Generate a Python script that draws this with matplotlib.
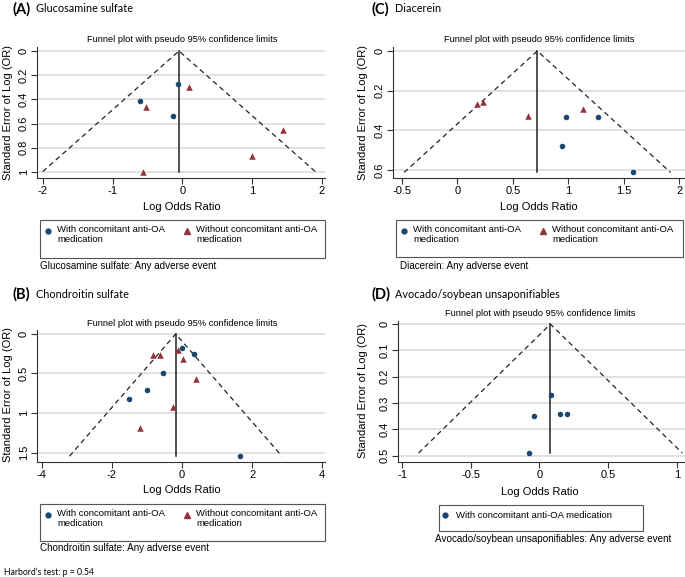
import matplotlib
matplotlib.use('Agg')
import matplotlib.pyplot as plt
import matplotlib.patches as patches
import numpy as np

plt.rcParams['font.family'] = ['Liberation Sans', 'DejaVu Sans']

W, H = 685, 577
BLUE = '#1a476f'
RED = '#90353b'

# (A) Glucosamine sulfate
a_with_x = [-0.61, -0.07, -0.14]
a_with_se = [0.41, 0.27, 0.535]
a_without_x = [0.09, -0.53, 1.44, 1.00, -0.56]
a_without_se = [0.295, 0.465, 0.655, 0.865, 0.997]
a_pooled = -0.05

# (B) Chondroitin sulfate
b_with_x = [0.01, 0.35, -0.55, -1.00, -1.50, 1.64]
b_with_se = [0.174, 0.258, 0.50, 0.71, 0.82, 1.547]
b_without_x = [-0.84, -0.63, -0.11, 0.04, 0.39, -0.25, -1.19]
b_without_se = [0.27, 0.27, 0.20, 0.314, 0.576, 0.93, 1.186]
b_pooled = -0.18

# (C) Diacerein
c_with_x = [0.98, 1.27, 0.94, 1.58]
c_with_se = [0.333, 0.333, 0.481, 0.612]
c_without_x = [0.18, 0.23, 0.64, 1.13]
c_without_se = [0.267, 0.257, 0.326, 0.292]
c_pooled = 0.72

# (D) Avocado/soybean unsaponifiables
d_with_x = [0.086, -0.04, 0.147, 0.203, -0.076]
d_with_se = [0.269, 0.35, 0.34, 0.34, 0.49]
d_pooled = 0.08

TICK_FS = 8
TITLE_FS = 6.7
LAB_FS = 8
LEG_FS = 6.8
CAP_FS = 7.1

fig = plt.figure(figsize=(W / 100, H / 100), dpi=100)


def rect(left, top, right, bottom):
    return [left / W, 1 - bottom / H, (right - left) / W, (bottom - top) / H]


def fx(px):
    return px / W


def fy(py):
    return 1 - py / H


def funnel(box, xlim, ylim, xticks, yticks, ytlabels, pooled, with_x, with_se,
           without_x=None, without_se=None):
    ax = fig.add_axes(rect(*box))
    se_max = max(with_se + (without_se or []))
    # pseudo 95% confidence limits
    ax.plot([pooled - 1.96 * se_max, pooled, pooled + 1.96 * se_max],
            [se_max, 0, se_max], color='#222222', lw=0.9, ls=(0, (4, 3)), zorder=2)
    ax.plot([pooled, pooled], [0, se_max], color='#222222', lw=1.1, zorder=2)
    ax.scatter(with_x, with_se, s=16, marker='o', color=BLUE, zorder=3, linewidths=0)
    if without_x is not None:
        ax.scatter(without_x, without_se, s=22, marker='^', color=RED, zorder=3, linewidths=0)
    ax.set_xlim(*xlim)
    ax.set_ylim(*ylim)
    ax.set_xticks(xticks)
    ax.set_xticklabels(['%g' % t for t in xticks], fontsize=TICK_FS)
    ax.set_yticks(yticks)
    ax.set_yticklabels(ytlabels, fontsize=TICK_FS, rotation=90, va='center')
    for t in yticks:
        ax.axhline(t, color='#dddddd', lw=1.2, zorder=1)
    for s in ['top', 'right']:
        ax.spines[s].set_visible(False)
    for s in ['left', 'bottom']:
        ax.spines[s].set_color('#333333')
        ax.spines[s].set_linewidth(0.8)
    ax.tick_params(direction='out', length=4, width=0.8, color='#333333', pad=2)
    ax.set_facecolor('none')
    return ax


def legend_box(x0, y0, x1, y1):
    r = patches.Rectangle((fx(x0), fy(y1)), fx(x1) - fx(x0), fy(y0) - fy(y1),
                          transform=fig.transFigure, fill=False,
                          edgecolor='#555555', lw=0.8)
    fig.patches.append(r)
    fig.lines.append(plt.Line2D([fx(x0 + 8)], [fy(y0 + 11)], marker='o', ms=3.5,
                                color=BLUE, transform=fig.transFigure))
    fig.text(fx(x0 + 17), fy(y0 + 5), 'With concomitant anti-OA\nmedication',
             fontsize=LEG_FS, va='top', ha='left', linespacing=1.15)
    fig.lines.append(plt.Line2D([fx(x0 + 147)], [fy(y0 + 11)], marker='^', ms=4.5,
                                color=RED, transform=fig.transFigure))
    fig.text(fx(x0 + 156), fy(y0 + 5), 'Without concomitant anti-OA\nmedication',
             fontsize=LEG_FS, va='top', ha='left', linespacing=1.15)


def header(x, y, tag, name):
    fig.text(fx(x), fy(y), tag, fontsize=10.5, fontweight='bold', va='center', family='Lato')
    fig.text(fx(x + 24), fy(y), name, fontsize=7.8, va='center', family='Lato')


title = 'Funnel plot with pseudo 95% confidence limits'
ylab = 'Standard Error of Log (OR)'

# Panel A
funnel((37, 47, 325, 178), (-2.086, 2.043), (1.05, -0.033), [-2, -1, 0, 1, 2],
       [0, 0.2, 0.4, 0.6, 0.8, 1], ['0', '0.2', '0.4', '0.6', '0.8', '1'],
       a_pooled, a_with_x, a_with_se, a_without_x, a_without_se)
fig.text(fx(182), fy(40), title, fontsize=TITLE_FS, ha='center', va='center')
fig.text(fx(8), fy(112), ylab, fontsize=LAB_FS, rotation=90, ha='center', va='center')
fig.text(fx(182), fy(207), 'Log Odds Ratio', fontsize=LAB_FS, ha='center', va='center')
legend_box(40, 220, 325, 258)
fig.text(fx(40), fy(266), 'Glucosamine sulfate: Any adverse event', fontsize=CAP_FS, va='center')
header(12, 9, '(A)', 'Glucosamine sulfate')

# Panel C
funnel((393, 47, 685, 178), (-0.58, 2.05), (0.64, -0.02), [-0.5, 0, 0.5, 1, 1.5, 2],
       [0, 0.2, 0.4, 0.6], ['0', '0.2', '0.4', '0.6'],
       c_pooled, c_with_x, c_with_se, c_without_x, c_without_se)
fig.text(fx(539), fy(40), title, fontsize=TITLE_FS, ha='center', va='center')
fig.text(fx(363), fy(112), ylab, fontsize=LAB_FS, rotation=90, ha='center', va='center')
fig.text(fx(539), fy(207), 'Log Odds Ratio', fontsize=LAB_FS, ha='center', va='center')
legend_box(396, 220, 683, 257)
fig.text(fx(400), fy(266), 'Diacerein: Any adverse event', fontsize=CAP_FS, va='center')
header(371, 9, '(C)', 'Diacerein')

# Panel B
funnel((37, 330, 325, 462), (-4.14, 4.08), (1.62, -0.05), [-4, -2, 0, 2, 4],
       [0, 0.5, 1, 1.5], ['0', '0.5', '1', '1.5'],
       b_pooled, b_with_x, b_with_se, b_without_x, b_without_se)
fig.text(fx(182), fy(323), title, fontsize=TITLE_FS, ha='center', va='center')
fig.text(fx(8), fy(395), ylab, fontsize=LAB_FS, rotation=90, ha='center', va='center')
fig.text(fx(182), fy(490), 'Log Odds Ratio', fontsize=LAB_FS, ha='center', va='center')
legend_box(40, 504, 325, 541)
fig.text(fx(40), fy(548), 'Chondroitin sulfate: Any adverse event', fontsize=CAP_FS, va='center')
header(12, 294, '(B)', 'Chondroitin sulfate')
fig.text(fx(4), fy(572), "Harbord\u2019s test: p = 0.54", fontsize=6.2, va='center', family='Lato')

# Panel D
funnel((398, 321, 685, 462), (-1.03, 1.06), (0.524, -0.012), [-1, -0.5, 0, 0.5, 1],
       [0, 0.1, 0.2, 0.3, 0.4, 0.5], ['0', '0.1', '0.2', '0.3', '0.4', '0.5'],
       d_pooled, d_with_x, d_with_se)
fig.text(fx(540), fy(313), title, fontsize=TITLE_FS, ha='center', va='center')
fig.text(fx(363), fy(390), ylab, fontsize=LAB_FS, rotation=90, ha='center', va='center')
fig.text(fx(540), fy(492), 'Log Odds Ratio', fontsize=LAB_FS, ha='center', va='center')
r = patches.Rectangle((fx(439), fy(531)), fx(643) - fx(439), fy(505) - fy(531),
                      transform=fig.transFigure, fill=False, edgecolor='#555555', lw=0.8)
fig.patches.append(r)
fig.lines.append(plt.Line2D([fx(445)], [fy(515)], marker='o', ms=3.5, color=BLUE,
                            transform=fig.transFigure))
fig.text(fx(456), fy(515), 'With concomitant anti-OA medication', fontsize=LEG_FS, va='center')
fig.text(fx(553), fy(539), 'Avocado/soybean unsaponifiables: Any adverse event',
         fontsize=CAP_FS, ha='center', va='center')
header(371, 294, '(D)', 'Avocado/soybean unsaponifiables')

fig.savefig('out.png', dpi=100, facecolor='white')
